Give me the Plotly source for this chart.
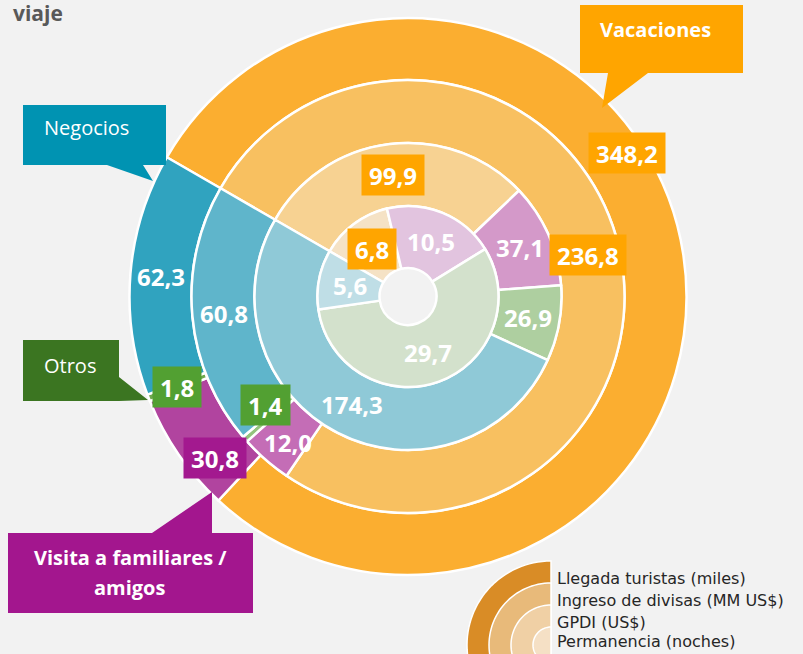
import math
import plotly.graph_objects as go

# ---------------- data ----------------
categories = ["Vacaciones", "Visita a familiares / amigos", "Otros", "Negocios"]
ring_names = ["Llegada turistas (miles)", "Ingreso de divisas (MM US$)",
              "GPDI (US$)", "Permanencia (noches)"]
llegada = [348.2, 30.8, 1.8, 62.3]
divisas = [236.8, 12.0, 1.4, 60.8]
gpdi = [99.9, 37.1, 26.9, 174.3]
permanencia = [6.8, 10.5, 29.7, 5.6]
series = [llegada, divisas, gpdi, permanencia]
title_text = "viaje"

# ---------------- layout / style ----------------
W, H = 803, 654
CX, CY = 408, 296.5
radii = [278.5, 216.5, 153.5, 90.5, 28.5]
START = -60  # first slice starts at 10 o'clock, clockwise
BG = "#F2F2F2"

ring_colors = {
    "Vacaciones": ["#FBAE30", "#F8C060", "#F7D292", "#F5E2C5"],
    "Visita a familiares / amigos": ["#B1449F", "#C46DB6", "#D499C9", "#E2C4DF"],
    "Otros": ["#6FA84F", "#93C47D", "#AECFA0", "#D3E1CC"],
    "Negocios": ["#30A3BF", "#5FB5CB", "#8FC9D7", "#BFDEE6"],
}
box_colors = {
    (0, "Vacaciones"): "#FFA500", (1, "Vacaciones"): "#FFA500",
    (2, "Vacaciones"): "#FFA500", (3, "Vacaciones"): "#FFA500",
    (0, "Otros"): "#52A032", (1, "Otros"): "#52A032",
    (0, "Visita a familiares / amigos"): "#A3198F",
}
# manual label nudges (angle deg, radius px)
label_nudge = {
    (0, "Vacaciones"): (-24.7, 14),
    (0, "Visita a familiares / amigos"): (-5.4, 4),
    (1, "Otros"): (3.7, -6),
    (1, "Visita a familiares / amigos"): (-1.5, 4),
}

def px(x):
    return x / W

def py(y):
    return 1 - y / H

def fmt(v):
    return f"{v:.1f}".replace(".", ",")

fig = go.Figure()

for k, vals in enumerate(series):
    R, r_in = radii[k], radii[k + 1]
    fig.add_trace(go.Pie(
        labels=categories, values=vals, sort=False, direction="clockwise",
        rotation=START, hole=r_in / R,
        domain=dict(x=[px(CX - R), px(CX + R)], y=[py(CY + R), py(CY - R)]),
        marker=dict(colors=[ring_colors[c][k] for c in categories],
                    line=dict(color="white", width=2.5)),
        textinfo="none", hoverinfo="label+value", showlegend=False,
        name=ring_names[k],
    ))

annotations = []
# data labels positioned at slice centres
for k, vals in enumerate(series):
    total = sum(vals)
    rmid = (radii[k] + radii[k + 1]) / 2
    acc = 0.0
    for c, v in zip(categories, vals):
        mid = START + (acc + v / 2) / total * 360
        acc += v
        da, dr = label_nudge.get((k, c), (0, 0))
        a = math.radians(mid + da)
        rr = rmid + dr
        x = CX + rr * math.sin(a)
        y = CY - rr * math.cos(a)
        bc = box_colors.get((k, c))
        ann = dict(x=px(x), y=py(y), xref="paper", yref="paper", showarrow=False,
                   text=fmt(v), xanchor="center", yanchor="middle",
                   font=dict(family="Open Sans", size=24, color="white", weight="bold"))
        if bc:
            ann.update(bgcolor=bc, borderpad=7, height=26)
        annotations.append(ann)

# callouts
def poly_path(pts):
    return "M " + " L ".join(f"{px(x):.5f},{py(y):.5f}" for x, y in pts) + " Z"

callouts = [
    ("#FFA500", [(580, 5), (743, 5), (743, 73), (648, 73), (602, 108), (608, 73), (580, 73)]),
    ("#0093B2", [(23, 105), (166, 105), (166, 165), (143, 165), (153, 181), (107, 165), (23, 165)]),
    ("#3B7521", [(23, 340), (119, 340), (119, 377), (148, 400), (119, 401), (23, 401)]),
    ("#A3168E", [(8, 533), (152, 533), (212, 492), (212, 533), (253, 533), (253, 613), (8, 613)]),
]
shapes = []
for col, pts in callouts:
    shapes.append(dict(type="path", xref="paper", yref="paper", path=poly_path(pts),
                       fillcolor=col, line=dict(width=0), layer="above"))

callout_texts = [
    ("Vacaciones", 655, 30, "bold"),
    ("Negocios", 86, 128, "normal"),
    ("Otros", 70, 365, "normal"),
    ("Visita a familiares /", 130, 557, "bold"),
    ("amigos", 130, 587, "bold"),
]
for t, x, y, wgt in callout_texts:
    annotations.append(dict(x=px(x), y=py(y), xref="paper", yref="paper", showarrow=False,
                            text=t, xanchor="center", yanchor="middle",
                            font=dict(family="Open Sans", size=20, color="white", weight=wgt)))

# title fragment
annotations.append(dict(x=px(11), y=py(-3), xref="paper", yref="paper", showarrow=False,
                        text=title_text, xanchor="left", yanchor="top",
                        font=dict(family="Open Sans", size=21, color="#595959", weight="bold")))

# legend: nested quarter rings
LCX, LCY = 551, 645
leg_r = [84, 62, 40, 18]
leg_cols = ["#D98C26", "#E8BA7A", "#F0D0A5", "#F5E0C5"]
def sector(cx, cy, r, a0, a1, n=60):
    pts = [(cx, cy)]
    for i in range(n + 1):
        a = math.radians(a0 + (a1 - a0) * i / n)
        pts.append((cx + r * math.sin(a), cy - r * math.cos(a)))
    return poly_path(pts)
for r, col in zip(leg_r, leg_cols):
    shapes.append(dict(type="path", xref="paper", yref="paper",
                       path=sector(LCX, LCY, r, 180, 360), fillcolor=col,
                       line=dict(color="white", width=1.5), layer="above"))
leg_y = [578, 600, 622, 641]
for name, y in zip(ring_names, leg_y):
    annotations.append(dict(x=px(555), y=py(y), xref="paper", yref="paper", showarrow=False,
                            text=name, xanchor="left", yanchor="middle",
                            font=dict(family="DejaVu Sans", size=16, color="#262626")))

fig.update_layout(width=W, height=H, margin=dict(l=0, r=0, t=0, b=0),
                  paper_bgcolor=BG, plot_bgcolor=BG, showlegend=False,
                  annotations=annotations, shapes=shapes)
fig.write_html("out.html", config={"displayModeBar": False},
               post_script="document.body.style.margin='0px';document.body.style.overflow='hidden';")
